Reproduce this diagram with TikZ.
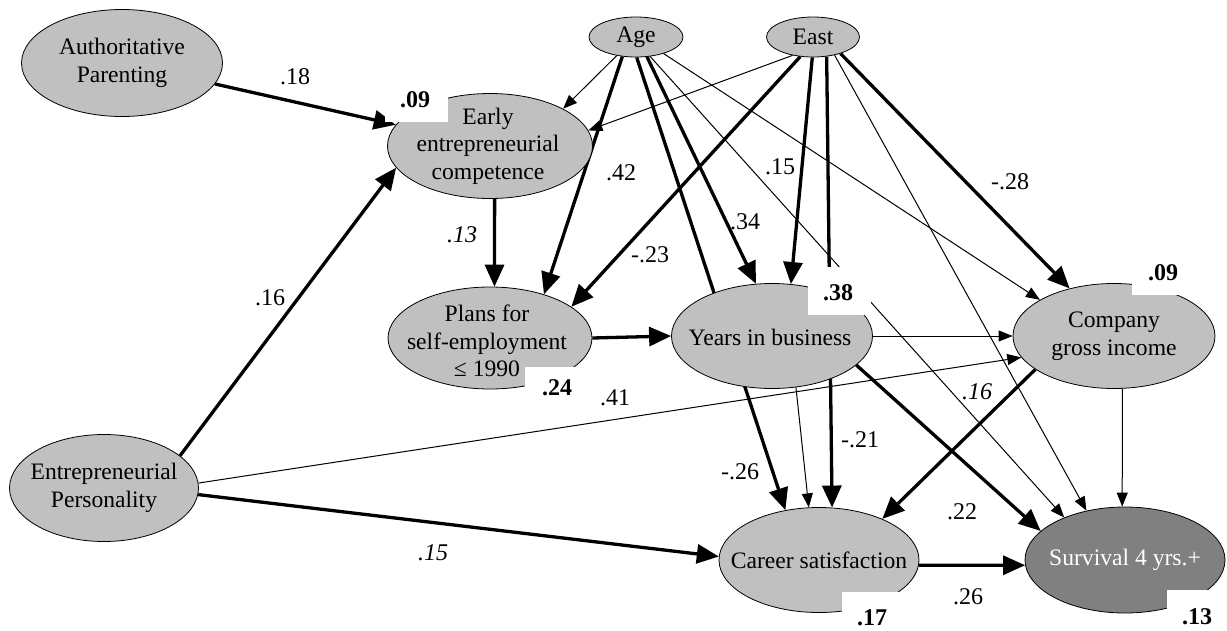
\documentclass[tikz,border=0pt]{standalone}
\usepackage{fontspec}
\setmainfont{Liberation Serif}
\usetikzlibrary{shapes.geometric,arrows.meta,backgrounds}
\definecolor{ellgray}{HTML}{C0C0C0}
\definecolor{darkell}{HTML}{808080}
\begin{document}
\begin{tikzpicture}[x=1pt,y=-1pt,
  ell/.style={ellipse, draw=black, line width=0.8pt, fill=ellgray, inner sep=0pt},
  txt/.style={font=\fontsize{23.6}{27.5}\selectfont, align=center, inner sep=0pt},
  lab/.style={font=\fontsize{24}{28}\selectfont, inner sep=0pt},
  labit/.style={font=\fontsize{24}{28}\selectfont\itshape, inner sep=0pt},
  rsq/.style={font=\fontsize{24}{28}\selectfont\bfseries, inner sep=0pt},
  wbox/.style={fill=white, draw=none},
  thinarr/.style={line width=1pt, -{Triangle[length=14pt,width=11pt]}},
  thickarr/.style={line width=3.3pt, -{Triangle[length=22pt,width=19pt]}}
]
\useasboundingbox (0,0) rectangle (1227,630);

% nodes
\node[ell, minimum width=201pt, minimum height=107pt] (ap) at (122,63) {};
\node[txt] (apT) at (ap) {Authoritative\\Parenting};
\node[ell, minimum width=94pt, minimum height=40pt] (age) at (636,37) {};
\node[txt] (ageT) at (age) {Age};
\node[ell, minimum width=93pt, minimum height=40pt] (east) at (813,37) {};
\node[txt] (eastT) at (east) {East};
\node[ell, minimum width=205pt, minimum height=105pt] (early) at (490,146) {};
\node[txt] (earlyT) at (488,146) {Early\\entrepreneurial\\competence};
\node[ell, minimum width=204pt, minimum height=102pt] (plans) at (490,338) {};
\node[txt] (plansT) at (487,341) {Plans for\\self-employment\\≤ 1990};
\node[ell, minimum width=201pt, minimum height=105pt] (years) at (772,336) {};
\node[txt] (yearsT) at (770,337) {Years in business};
\node[ell, minimum width=202pt, minimum height=105pt] (company) at (1114,336) {};
\node[txt] (companyT) at (1114,336) {Company\\gross income};
\node[ell, minimum width=189pt, minimum height=107pt] (ep) at (104,488) {};
\node[txt] (epT) at (ep) {Entrepreneurial\\Personality};
\node[ell, minimum width=200pt, minimum height=105pt] (career) at (819,560) {};
\node[txt] (careerT) at (career) {Career satisfaction};
\node[ell, fill=darkell, minimum width=200pt, minimum height=106pt] (survival) at (1125,560) {};
\node[txt, text=white] (survivalT) at (survival) {Survival 4 yrs.+};

% connectors
\begin{pgfonlayer}{background}
\fill[white] (0,0) rectangle (1227,630);
\draw[thickarr] (ap) -- (early);
\draw[thickarr] (ep.23) -- (early.193);
\draw[thickarr] (early.275) -- (plans.85);
\draw[thickarr] (plans.east) -- (years.west);
\draw[thinarr] (age.224) -- (early.27);
\draw[thickarr] (age.235) -- (plans.39);
\draw[thickarr] (age.272) -- (career.124);
\draw[thickarr] (age.299) -- (years.107);
\draw[thinarr] (age.306) -- (survival.145);
\draw[thinarr] (age.329) -- (company.154);
\draw[thinarr] (east.222) -- (early.9);
\draw[thickarr] (east.237) -- (plans.21);
\draw[thickarr] (east.268) -- (years.70);
\draw[thickarr] (east.305) -- (career.76);
\draw[thinarr] (east.320) -- (survival.128);
\draw[thickarr] (east.329) -- (company.133);
\draw[thinarr] (years.east) -- (company.west);
\draw[thinarr] (ep.3) -- (company.193);
\draw[thickarr] (ep.356) -- (career.178);
\draw[thinarr] (years.295) -- (career.101);
\draw[thickarr] (years.341) -- (survival.161);
\draw[thickarr] (company.203) -- (career.33);
\draw[thinarr] (company.279) -- (survival.93);
\draw[thickarr] (career.357) -- (survival.183);
\end{pgfonlayer}

% path labels
\node[lab] (l1) at (295,77) {.18};
\node[lab] (l2) at (270,298) {.16};
\node[labit] (l3) at (462,235) {.13};
\node[lab] (l4) at (621,173) {.42};
\node[lab] (l5) at (650,255) {-.23};
\node[lab] (l6) at (780,167) {.15};
\node[lab] (l7) at (745,222) {.34};
\node[lab] (l8) at (1010,182) {-.28};
\node[lab] (l9) at (615,398) {.41};
\node[labit] (l10) at (977,392) {.16};
\node[lab] (l11) at (740,472) {-.26};
\node[lab] (l12) at (860,440) {-.21};
\node[lab] (l13) at (962,512) {.22};
\node[lab] (l14) at (968,597) {.26};
\node[labit] (l15) at (433,553) {.15};

% R-square boxes
\fill[wbox] (385,80) rectangle (448,122);
\node[rsq] (r1) at (415,100) {.09};
\fill[wbox] (525,367) rectangle (600,412);
\node[rsq] (r2) at (557,388) {.24};
\fill[wbox] (808,267) rectangle (871,315);
\node[rsq] (r3) at (838,293) {.38};
\fill[wbox] (1132,255) rectangle (1227,295);
\node[rsq] (r4) at (1163,273) {.09};
\fill[wbox] (842,592) rectangle (910,630);
\node[rsq] (r5) at (872,618) {.17};
\fill[wbox] (1167,590) rectangle (1227,630);
\node[rsq] (r6) at (1197,617) {.13};
\end{tikzpicture}
\end{document}
